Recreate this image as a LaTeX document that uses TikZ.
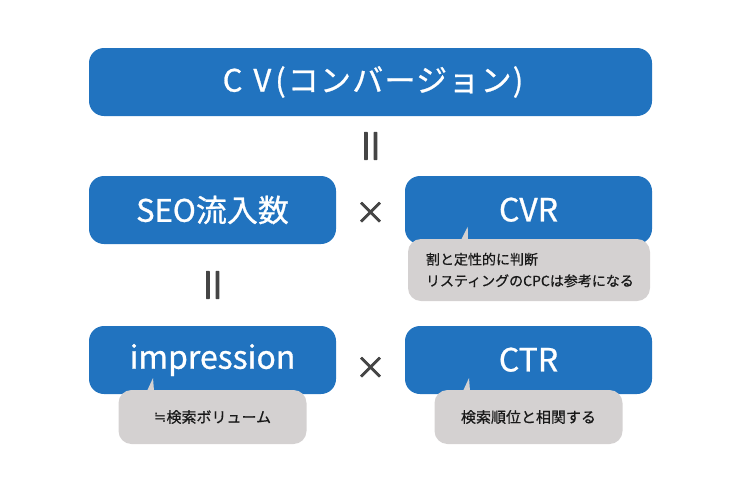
\documentclass[tikz,border=0pt]{standalone}
\usepackage{fontspec}
\usepackage{tikz}
\setmainfont{Noto Sans CJK JP}
\newfontfamily\termfont[FakeBold=0.8]{Noto Sans CJK JP}
\newfontfamily\widefont[FakeBold=0.8,LetterSpace=4]{Noto Sans CJK JP}
\newfontfamily\notefont[FakeBold=0.6]{Noto Sans CJK JP}
\newfontfamily\opfont[FakeBold=2.5]{Noto Sans CJK JP}
\newfontfamily\symfont{DejaVu Sans}
\definecolor{boxblue}{rgb}{0.13,0.45,0.75}
\definecolor{notegray}{rgb}{0.83,0.82,0.82}
\definecolor{opgray}{rgb}{0.27,0.27,0.27}
\definecolor{notetext}{rgb}{0.1,0.1,0.1}
\newcommand{\eqbars}{\scalebox{1.4}[1]{=}}
\newcommand{\termtext}[1]{\raisebox{1pt}{#1}}
\newcommand{\shortnote}{\fontsize{15}{20}\selectfont}
\tikzset{
  termbox/.style={fill=boxblue,rounded corners=15pt,text=white,inner sep=0pt,minimum height=68pt,font=\termfont\fontsize{32}{34}\selectfont},
  notebox/.style={fill=notegray,rounded corners=13pt,text=notetext,inner sep=0pt,font=\notefont\fontsize{14}{21.5}\selectfont},
  optext/.style={text=opgray,inner sep=0pt,font=\opfont\fontsize{31}{31}\selectfont},
  eqtext/.style={text=opgray,inner sep=0pt,rotate=90,font=\opfont\fontsize{40}{40}\selectfont}
}

\begin{document}
\begin{tikzpicture}[line cap=round,line join=round,x=1pt,y=-1pt]
\useasboundingbox (0,0) rectangle (750,480);

% top row
\node[termbox,minimum width=563pt] (cv) at (370.5,82) {\hspace{5pt}\widefont\fontsize{31}{34}\selectfont\raisebox{-0.5pt}{C\hspace{11pt}V\hspace{4pt}(\hspace{2pt}コンバージョン)}};
\node[eqtext] (eqtop) at (375,146) {\eqbars};

% middle row
\node[termbox,minimum width=247pt] (seo) at (212.5,210) {\fontsize{31}{34}\selectfont\termtext{SEO流入数}};
\node[optext] (timestop) at (370.5,213) {×};
\node[termbox,minimum width=247pt] (cvr) at (528.5,210) {\termtext{CVR}};
\fill[notegray] (461,240) -- (467.7,226.7) -- (468,240) -- cycle;
\node[notebox,minimum width=242pt,minimum height=62pt,align=left,text width=206pt] (cvrnote) at (529,270) {割と定性的に判断\\リスティングのCPCは参考になる};

\node[eqtext] (eqleft) at (217,285) {\eqbars};

% bottom row
\node[termbox,minimum width=247pt] (imp) at (212.5,360) {\termtext{impression}};
\node[optext] (timesbot) at (370.5,368) {×};
\node[termbox,minimum width=247pt] (ctr) at (528.5,360) {\termtext{CTR}};
\fill[notegray] (147,391) -- (153,378) -- (154,391) -- cycle;
\fill[notegray] (463,391) -- (469,378) -- (470,391) -- cycle;
\node[notebox,minimum width=188pt,minimum height=54pt] (impnote) at (212.5,417) {\shortnote{\symfont ≒}検索ボリューム};
\node[notebox,minimum width=188pt,minimum height=54pt] (ctrnote) at (528.5,417) {\shortnote 検索順位と相関する};

\end{tikzpicture}
\end{document}
